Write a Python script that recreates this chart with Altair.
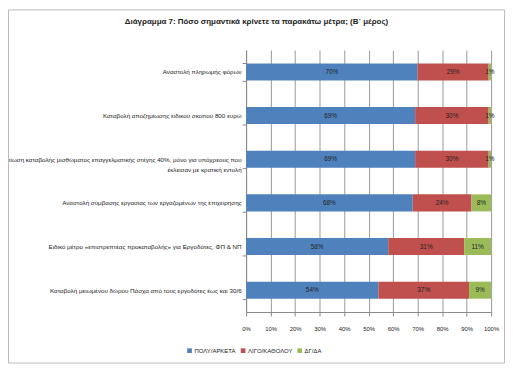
import altair as alt
import pandas as pd

measures = [
    "Αναστολή πληρωμής φόρων",
    "Καταβολή αποζημίωσης ειδικού σκοπού 800 ευρώ",
    "Μείωση καταβολής μισθώματος επαγγελματικής στέγης 40%, μόνο για υπόχρεους που|έκλεισαν με κρατική εντολή",
    "Αναστολή σύμβασης εργασίας των εργαζομένων της επιχείρησης",
    "Ειδικό μέτρο «επιστρεπτέας προκαταβολής» για Εργοδότες, ΦΠ & ΝΠ",
    "Καταβολή μειωμένου δώρου Πάσχα από τους εργοδότες έως και 30/6",
]
poly = [70, 69, 69, 68, 58, 54]
ligo = [29, 30, 30, 24, 31, 37]
dgda = [1, 1, 1, 8, 11, 9]
series = ["ΠΟΛΥ/ΑΡΚΕΤΑ", "ΛΙΓΟ/ΚΑΘΟΛΟΥ", "ΔΓ/ΔΑ"]
colors = ["#4F81BD", "#C0504D", "#9BBB59"]
x_ticks = [0, 0.1, 0.2, 0.3, 0.4, 0.5, 0.6, 0.7, 0.8, 0.9, 1.0]
title_text = "Διάγραμμα 7: Πόσο σημαντικά κρίνετε τα παρακάτω μέτρα; (Β΄ μέρος)"

rows = []
for i, m in enumerate(measures):
    for j, (s, vals) in enumerate(zip(series, [poly, ligo, dgda])):
        rows.append({"measure": m, "series": s, "order": j, "value": vals[i] / 100})
df = pd.DataFrame(rows)

FONT = "Liberation Sans Narrow, Liberation Sans, sans-serif"
FS = 6

base = alt.Chart(df).transform_stack(
    stack="value", groupby=["measure"], as_=["v0", "v1"],
    sort=[alt.SortField("order", order="ascending")]
).transform_calculate(mid="(datum.v0 + datum.v1) / 2")

x_scale = alt.Scale(domain=[0, 1], nice=False)
y_scale = alt.Scale(paddingInner=0.61, paddingOuter=0.305)

x_axis = alt.Axis(
    format="%", values=x_ticks, tickCount=20, grid=True, gridColor="#999",
    domainColor="#888", tickColor="#888", tickSize=4, labelFontSize=FS,
    labelFont=FONT, labelColor="#222", labelPadding=10,
    labelOverlap=False, labelFlush=False,
)
y_axis = alt.Axis(
    labelExpr="split(datum.label, '|')", labelLimit=0, labelFontSize=6.3,
    labelFont=FONT, labelColor="#222", labelPadding=1, tickBand="extent",
    ticks=True, tickSize=4, tickColor="#888", domainColor="#888",
    labelLineHeight=10, grid=False,
)

bars = base.mark_bar().encode(
    x=alt.X("v0:Q", title=None, scale=x_scale, axis=x_axis),
    x2="v1:Q",
    y=alt.Y("measure:N", sort=measures, title=None, scale=y_scale, axis=y_axis),
    color=alt.Color(
        "series:N", scale=alt.Scale(domain=series, range=colors),
        legend=alt.Legend(
            orient="none", legendX=-60, legendY=300, direction="horizontal",
            title=None, symbolType="square", symbolSize=22, labelFontSize=FS,
            labelFont=FONT, labelColor="#222", columnPadding=4,
            symbolStrokeWidth=0, labelOffset=2,
        ),
    ),
)

texts = base.mark_text(fontSize=6.5, font=FONT, color="#222").encode(
    x=alt.X("mid:Q", title=None, scale=x_scale, axis=x_axis),
    y=alt.Y("measure:N", sort=measures, title=None, scale=y_scale, axis=y_axis),
    text=alt.Text("value:Q", format=".0%"),
)

border = alt.Chart(pd.DataFrame({"a": [0]})).mark_rect(
    fill=None, stroke="#bbb", strokeWidth=1
).encode(
    x=alt.value(-239.5), x2=alt.value(247 + 13.5),
    y=alt.value(-40.5), y2=alt.value(264 + 51.5),
)

chart = alt.layer(bars, texts, border).properties(
    width=247, height=264,
    padding={"left": 240, "top": 41, "right": 14, "bottom": 52},
    autosize="none",
    title=alt.TitleParams(
        title_text, fontSize=8, font=FONT, fontWeight="bold", dx=-113,
        offset=-17, anchor="middle", color="#222",
    ),
).configure_view(stroke=None)

chart.save("out.html", embed_options={"renderer": "svg", "actions": False})
